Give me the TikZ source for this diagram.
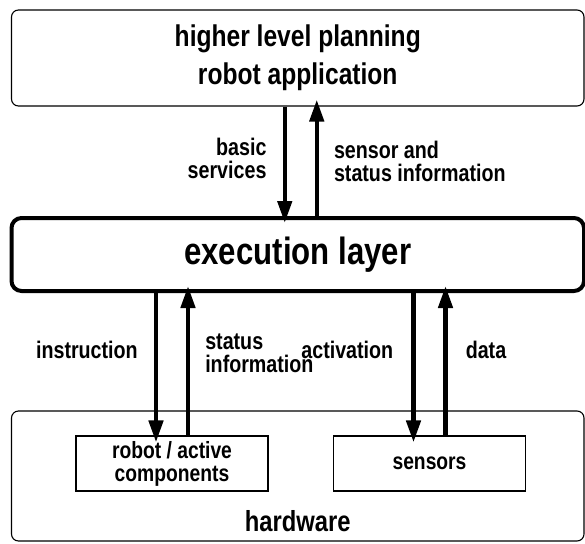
\documentclass[tikz,border=0pt]{standalone}
\usepackage{fontspec}
\setmainfont{Liberation Sans}[FakeStretch=0.82]
\usetikzlibrary{arrows.meta, positioning}

\begin{document}
\begin{tikzpicture}[
    x=1pt, y=-1pt,
    >={Triangle[length=22pt, width=14pt]}, % big solid heads on the data paths
    font=\bfseries,
    layer/.style={
        rectangle,
        rounded corners=7pt,
        draw=black,
        line width=1.1pt,
        minimum width=572.5pt,
        inner sep=0pt,
        align=center
    },
    execlayer/.style={
        layer,
        rounded corners=10pt,
        line width=4pt,
        minimum height=73pt
    },
    unit/.style={
        rectangle,
        draw=black,
        line width=1.1pt,
        minimum width=192pt,
        minimum height=55pt,
        inner sep=0pt,
        align=center,
        font=\bfseries\fontsize{23.5}{23}\selectfont
    },
    flow/.style={
        ->,
        line width=4.5pt,
        shorten >=-7pt
    },
    lbl/.style={
        inner sep=0pt,
        font=\bfseries\fontsize{24}{23}\selectfont
    }
]
    \useasboundingbox (0,0) rectangle (585,543);

    % =======================================================
    % LAYERS
    % =======================================================
    \node[layer, minimum height=96pt, font=\bfseries\fontsize{30}{38}\selectfont]
        (plan) at (297.75,58) {higher level planning\\robot application};
    \node[execlayer, font=\bfseries\fontsize{38}{40}\selectfont]
        (exec) at (297.75,254.5) {execution layer};
    \node[layer, minimum height=130pt] (hw) at (297.75,476) {};

    % Hardware units
    \node[unit] (robot) at (172,463.5) {robot / active\\components};
    \node[unit] (sensors) at (429.5,463.5) {sensors};
    \node[anchor=base, font=\bfseries\fontsize{29}{30}\selectfont]
        (hwLabel) at ([yshift=10pt]hw.south) {hardware};

    % =======================================================
    % PLANNING <-> EXECUTION
    % =======================================================
    \coordinate (svcDown) at ([xshift=-13pt]plan.south);
    \coordinate (infoUp) at ([xshift=19pt]plan.south);

    \draw[flow] (svcDown) -- node[lbl, left=16pt, align=right, pos=.47] {basic\\services} (svcDown |- exec.north);
    \draw[flow] (infoUp |- exec.north) -- node[lbl, right=15pt, align=left] {sensor and\\status information} (infoUp);

    % =======================================================
    % EXECUTION <-> HARDWARE
    % =======================================================
    \coordinate (instrDown) at ([xshift=-16pt]robot.north);
    \coordinate (statusUp) at ([xshift=16pt]robot.north);
    \coordinate (actDown) at ([xshift=-16pt]sensors.north);
    \coordinate (dataUp) at ([xshift=16pt]sensors.north);

    \draw[flow] (instrDown |- exec.south) -- node[lbl, left=16pt, pos=.4] {instruction} (instrDown);
    \draw[flow] (statusUp) -- node[lbl, right=15pt, align=left, pos=.58] {status\\information} (statusUp |- exec.south);
    \draw[flow] (actDown |- exec.south) -- node[lbl, left=18pt, pos=.4] {activation} (actDown);
    \draw[flow] (dataUp) -- node[lbl, right=18pt, pos=.6] {data} (dataUp |- exec.south);

\end{tikzpicture}
\end{document}
